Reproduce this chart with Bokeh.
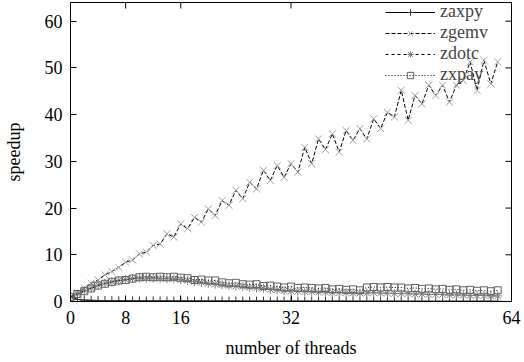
from bokeh.plotting import figure
from bokeh.models import Legend, LegendItem, FixedTicker, Range1d
from bokeh.embed import file_html
from bokeh.resources import INLINE

threads = list(range(63))

zaxpy = [1.00, 0.45, 0.30, 0.25, 0.22, 0.20, 0.18, 0.16, 0.15, 0.14,
         0.13, 0.13, 0.12, 0.12, 0.12, 0.11, 0.11, 0.11, 0.10, 0.10,
         0.10, 0.10, 0.10, 0.09, 0.09, 0.09, 0.09, 0.09, 0.08, 0.08,
         0.08, 0.08, 0.08, 0.08, 0.07, 0.07, 0.07, 0.07, 0.07, 0.07,
         0.07, 0.06, 0.06, 0.06, 0.06, 0.06, 0.06, 0.06, 0.06, 0.05,
         0.05, 0.05, 0.05, 0.05, 0.05, 0.05, 0.05, 0.05, 0.05, 0.05,
         0.05, 0.05, 0.05]

zgemv = [1.0, 1.9, 2.8, 3.9, 4.6, 5.7, 6.4, 7.3, 8.4, 8.9,
         10.2, 10.6, 12.0, 12.3, 14.5, 13.8, 16.6, 15.6, 18.0, 17.0,
         19.8, 18.4, 21.6, 20.6, 23.8, 22.0, 25.5, 24.1, 28.1, 25.9,
         29.1, 26.6, 29.5, 27.7, 33.0, 29.5, 34.8, 32.5, 35.9, 32.0,
         36.6, 34.5, 37.0, 34.8, 39.1, 37.0, 40.5, 39.5, 45.2, 38.8,
         44.1, 42.3, 46.3, 44.1, 46.3, 42.7, 46.3, 47.3, 51.3, 45.2,
         51.6, 46.6, 51.3]

zdotc = [1.0, 1.6, 2.3, 2.9, 3.5, 3.9, 4.2, 4.5, 4.7, 4.9,
         5.0, 5.0, 5.0, 4.9, 4.9, 4.8, 4.7, 4.5, 4.3, 4.1,
         3.9, 3.7, 3.6, 3.4, 3.3, 3.2, 3.0, 2.9, 2.8, 2.6,
         2.5, 2.3, 2.2, 2.2, 2.1, 2.1, 2.0, 2.0, 1.9, 1.9,
         1.9, 1.8, 1.8, 1.8, 1.9, 1.8, 1.8, 1.7, 1.7, 1.7,
         1.6, 1.6, 1.5, 1.5, 1.5, 1.4, 1.4, 1.4, 1.3, 1.3,
         1.3, 1.2, 1.2]

zxpay = [1.0, 1.6, 2.2, 2.8, 3.4, 3.8, 4.2, 4.5, 4.6, 4.9,
         5.2, 5.3, 5.2, 5.3, 5.2, 5.3, 5.1, 5.0, 4.6, 4.7,
         4.5, 4.5, 4.1, 3.9, 4.0, 3.7, 3.6, 3.7, 3.3, 3.4,
         3.2, 3.0, 3.2, 2.9, 3.0, 2.9, 2.8, 2.9, 2.6, 2.7,
         2.5, 2.6, 2.4, 3.0, 3.1, 3.0, 3.1, 3.0, 3.0, 2.8,
         2.9, 2.7, 2.8, 2.6, 2.7, 2.5, 2.6, 2.4, 2.5, 2.3,
         2.4, 2.2, 2.4]

x_ticks = [0, 8, 16, 32, 64]
y_ticks = [0, 10, 20, 30, 40, 50, 60]
x_max = 64
y_max = 64
series_names = ["zaxpy", "zgemv", "zdotc", "zxpay"]

FONT = "Liberation Serif"
FS = "18px"

p = figure(width=524, height=362, x_range=Range1d(0, x_max), y_range=Range1d(0, y_max),
           output_backend="svg", toolbar_location=None,
           min_border_left=68, min_border_right=13, min_border_top=2, min_border_bottom=61)
p.grid.visible = False
p.outline_line_color = "black"
p.outline_line_width = 1
p.background_fill_color = "white"
p.border_fill_color = "white"

p.xaxis.ticker = FixedTicker(ticks=x_ticks)
p.yaxis.ticker = FixedTicker(ticks=y_ticks)
for ax in (p.xaxis[0], p.yaxis[0]):
    ax.major_tick_in = 6
    ax.major_tick_out = 0
    ax.minor_tick_line_color = None
    ax.axis_line_color = "black"
    ax.major_label_text_font = FONT
    ax.major_label_text_font_size = FS
    ax.major_label_text_color = "black"
    ax.axis_label_text_font = FONT
    ax.axis_label_text_font_size = FS
    ax.axis_label_text_font_style = "normal"
    ax.axis_label_text_color = "black"
p.xaxis.axis_label = "number of threads"
p.yaxis.axis_label = "speedup"
p.xaxis.major_label_standoff = 9
p.xaxis.axis_label_standoff = 11
p.yaxis.major_label_standoff = 8
p.yaxis.axis_label_standoff = 18

# mirrored ticks on the right and top borders
p.scatter([x_max] * len(y_ticks), y_ticks, marker="dash", size=12,
          line_color="black", line_width=1)
p.scatter(x_ticks, [y_max] * len(x_ticks), marker="dash", angle=1.5708, size=12,
          line_color="black", line_width=1)

styles = [
    dict(y=zaxpy, dash="solid", marker="cross", mcolor="#333333", size=9),
    dict(y=zgemv, dash="4 2", marker="x", mcolor="#a0a0a0", size=10),
    dict(y=zdotc, dash="3 3", marker="asterisk", mcolor="#808080", size=9),
    dict(y=zxpay, dash="1 2", marker="square", mcolor="#606060", size=7),
]

items = []
for name, st in zip(series_names, styles):
    ln = p.line(threads, st["y"], line_color="black", line_width=1, line_dash=st["dash"])
    sc = p.scatter(threads, st["y"], marker=st["marker"], size=st["size"],
                   line_color=st["mcolor"], fill_color=None, line_width=1)
    items.append(LegendItem(label=name, renderers=[ln, sc]))

legend = Legend(items=items, location=(315, 216))
legend.border_line_color = None
legend.background_fill_alpha = 0
legend.label_text_font = FONT
legend.label_text_font_size = FS
legend.glyph_width = 50
legend.glyph_height = 16
legend.label_height = 16
legend.spacing = -6
legend.padding = 2
legend.margin = 0
p.add_layout(legend)

open("out.html", "w").write(file_html(p, INLINE))
